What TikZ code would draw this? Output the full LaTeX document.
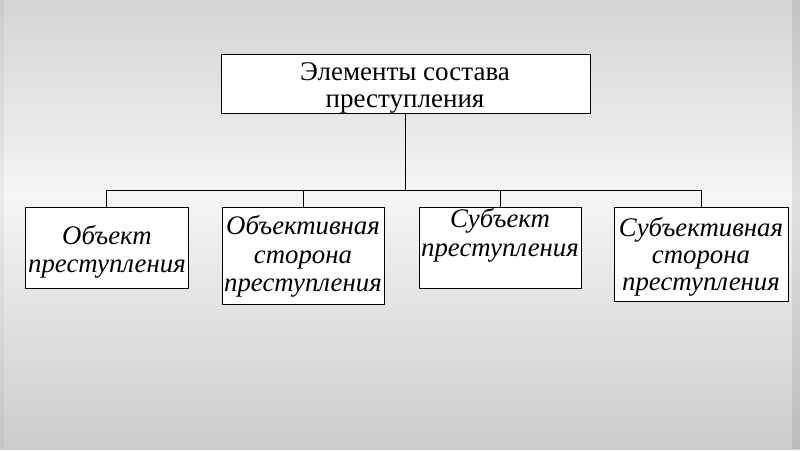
\documentclass[tikz,border=0pt]{standalone}
\usepackage{fontspec}
\setmainfont{Liberation Serif}
\begin{document}
\begin{tikzpicture}[x=1pt,y=-1pt,
  box/.style={draw=black,line width=0.9pt,fill=white,inner sep=0pt,anchor=north west},
  toptxt/.style={anchor=base,inner sep=0pt,font=\fontsize{27}{27}\selectfont},
  subtxt/.style={anchor=base,inner sep=0pt,font=\fontsize{26.8}{28}\selectfont\itshape},
  conn/.style={draw=black,line width=0.9pt}]
% background: vertical gradient built from thin strips
\foreach \i in {0,...,149}{
  \pgfmathsetmacro{\yy}{3*\i+1.5}
  \pgfmathsetmacro{\pp}{\yy<195 ? 4+13*(1-\yy/195) : 4+16*((\yy-195)/254)}
  \fill[black!\pp] (0,{3*\i}) rectangle (800,{3*\i+3.2});
}
\fill[black,opacity=0.08] (792,0) rectangle (800,449);
\fill[black,opacity=0.04] (0,0) rectangle (4,449);
\useasboundingbox (0,0) rectangle (800,449);
% boxes
\node[box,minimum width=369pt,minimum height=59pt] (top) at (221,54) {};
\node[box,minimum width=163pt,minimum height=81pt] (b1) at (25,207) {};
\node[box,minimum width=162pt,minimum height=97pt] (b2) at (222,207) {};
\node[box,minimum width=162pt,minimum height=81pt] (b3) at (419,207) {};
\node[box,minimum width=174pt,minimum height=94pt] (b4) at (614,207) {};
% texts
\node[toptxt] (ta) at (405,80.5) {Элементы состава};
\node[toptxt] (tb) at (405,107.5) {преступления};
\node[subtxt] (t1a) at (107,244) {Объект};
\node[subtxt] (t1b) at (107,272) {преступления};
\node[subtxt] (t2a) at (303,234) {Объективная};
\node[subtxt] (t2b) at (303,263) {сторона};
\node[subtxt] (t2c) at (303,291) {преступления};
\node[subtxt] (t3a) at (500,227) {Субъект};
\node[subtxt] (t3b) at (500,256) {преступления};
\node[subtxt] (t4a) at (701,236) {Субъективная};
\node[subtxt] (t4b) at (701,263) {сторона};
\node[subtxt] (t4c) at (701,290) {преступления};
% connectors
\coordinate (bus) at (0,190);
\coordinate (d1) at (106,207);
\coordinate (d2) at (303,207);
\coordinate (d3) at (500,207);
\coordinate (d4) at (701,207);
\coordinate (tt) at (405,113);
\draw[conn] (tt) -- (tt |- bus);
\draw[conn] (d1) -- (d1 |- bus) -- (d4 |- bus) -- (d4);
\draw[conn] (d2) -- (d2 |- bus);
\draw[conn] (d3) -- (d3 |- bus);
\end{tikzpicture}
\end{document}
